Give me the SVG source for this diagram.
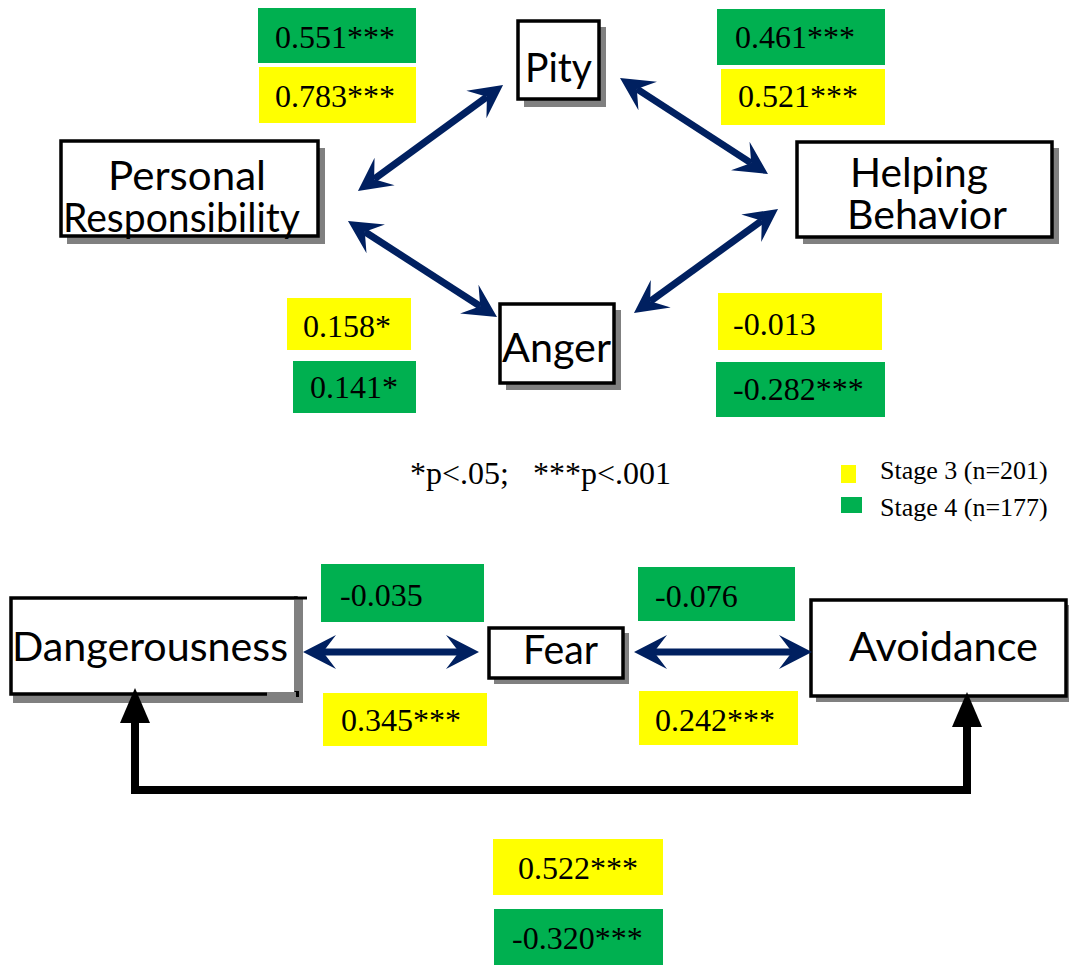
<svg xmlns="http://www.w3.org/2000/svg" width="1069" height="967" viewBox="0 0 1069 967">
  <style>
    .box { fill: #ffffff; stroke: #000000; stroke-width: 3.5; }
    .shadow { fill: #808080; }
    .node { font-family: "Lato", "Carlito", "Liberation Sans", sans-serif; font-size: 41px; fill: #000000; }
    .num { font-family: "Liberation Serif", "Times New Roman", serif; font-size: 32px; fill: #000000; }
    .legend { font-family: "Liberation Serif", "Times New Roman", serif; font-size: 26px; fill: #000000; }
    .s3 { fill: #ffff00; }
    .s4 { fill: #00b050; }
    .link { stroke: #002060; stroke-width: 7; fill: none; marker-start: url(#barb); marker-end: url(#barb); }
    .path { stroke: #000000; stroke-width: 8; fill: none; stroke-linejoin: miter; marker-start: url(#tri); marker-end: url(#tri); }
  </style>
  <defs>
    <marker id="barb" markerUnits="userSpaceOnUse" viewBox="0 -20 40 40" markerWidth="40" markerHeight="40" refX="13" refY="0" orient="auto-start-reverse" overflow="visible">
      <path d="M0,-17 L33,0 L0,17 L13,0 Z" fill="#002060"/>
    </marker>
    <marker id="tri" markerUnits="userSpaceOnUse" viewBox="0 -20 40 40" markerWidth="40" markerHeight="40" refX="0" refY="0" orient="auto-start-reverse" overflow="visible">
      <path d="M0,-15 L35,0 L0,15 Z" fill="#000000"/>
    </marker>
  </defs>

  <!-- coefficient labels: yellow = stage 3, green = stage 4 -->
  <g id="labels">
    <rect class="s4" x="258" y="8" width="158" height="55"/>
    <text class="num" x="275" y="48">0.551***</text>
    <rect class="s3" x="259" y="67" width="157" height="56"/>
    <text class="num" x="275" y="107">0.783***</text>

    <rect class="s4" x="717" y="9" width="168" height="56"/>
    <text class="num" x="735" y="48">0.461***</text>
    <rect class="s3" x="721" y="69" width="164" height="56"/>
    <text class="num" x="738" y="107">0.521***</text>

    <rect class="s3" x="287" y="298" width="124" height="52"/>
    <text class="num" x="303" y="337">0.158*</text>
    <rect class="s4" x="293" y="361" width="123" height="52"/>
    <text class="num" x="310" y="398">0.141*</text>

    <rect class="s3" x="718" y="293" width="164" height="57"/>
    <text class="num" x="733" y="335">-0.013</text>
    <rect class="s4" x="716" y="362" width="169" height="55"/>
    <text class="num" x="733" y="400">-0.282***</text>

    <rect class="s4" x="321" y="564" width="163" height="58"/>
    <text class="num" x="340" y="606">-0.035</text>
    <rect class="s3" x="323" y="693" width="164" height="53"/>
    <text class="num" x="341" y="731">0.345***</text>

    <rect class="s4" x="638" y="567" width="157" height="54"/>
    <text class="num" x="655" y="607">-0.076</text>
    <rect class="s3" x="639" y="691" width="159" height="54"/>
    <text class="num" x="655" y="731">0.242***</text>

    <rect class="s3" x="493" y="839" width="170" height="56"/>
    <text class="num" x="518" y="879">0.522***</text>
    <rect class="s4" x="494" y="909" width="169" height="56"/>
    <text class="num" x="512" y="949">-0.320***</text>
  </g>

  <!-- significance note -->
  <text id="note" class="num" x="410" y="484" xml:space="preserve">*p&lt;.05;   ***p&lt;.001</text>

  <!-- legend -->
  <g id="legend">
    <rect class="s3" x="841" y="465" width="15" height="18"/>
    <text class="legend" x="880" y="479">Stage 3 (n=201)</text>
    <rect class="s4" x="841" y="497" width="21" height="16"/>
    <text class="legend" x="880" y="516">Stage 4 (n=177)</text>
  </g>

  <!-- nodes -->
  <g id="pity">
    <rect class="shadow" x="524" y="27" width="82" height="80"/>
    <rect class="box" x="518" y="21" width="81" height="78"/>
    <text class="node" x="525" y="82" textLength="67" lengthAdjust="spacingAndGlyphs">Pity</text>
  </g>
  <g id="personal-responsibility">
    <rect class="shadow" x="67" y="148" width="258" height="96"/>
    <rect class="box" x="61" y="141" width="257" height="95"/>
    <text class="node" x="108" y="190" textLength="158" lengthAdjust="spacingAndGlyphs">Personal</text>
    <text class="node" x="63" y="232" textLength="237" lengthAdjust="spacingAndGlyphs">Responsibility</text>
  </g>
  <g id="helping-behavior">
    <rect class="shadow" x="803" y="148" width="256" height="96"/>
    <rect class="box" x="797" y="142" width="255" height="95"/>
    <text class="node" x="850" y="187" textLength="138" lengthAdjust="spacingAndGlyphs">Helping</text>
    <text class="node" x="847" y="229" textLength="160" lengthAdjust="spacingAndGlyphs">Behavior</text>
  </g>
  <g id="anger">
    <rect class="shadow" x="506" y="310" width="115" height="80"/>
    <rect class="box" x="500" y="304" width="114" height="79"/>
    <text class="node" x="502" y="362" textLength="109" lengthAdjust="spacingAndGlyphs">Anger</text>
  </g>
  <g id="dangerousness">
    <rect class="shadow" x="13" y="603" width="290" height="100"/>
    <rect class="box" x="11" y="598" width="285" height="96"/>
    <rect class="shadow" x="294" y="597" width="9" height="94"/>
    <line x1="294" y1="598" x2="307" y2="598" stroke="#000000" stroke-width="3"/>
    <rect class="shadow" x="267" y="692" width="33" height="11"/>
    <rect x="296" y="691" width="3" height="6" fill="#000000"/>
    <text class="node" x="12" y="661" textLength="276" lengthAdjust="spacingAndGlyphs">Dangerousness</text>
  </g>
  <g id="fear">
    <rect class="shadow" x="494" y="633" width="135" height="51"/>
    <rect class="box" x="489" y="628" width="134" height="50"/>
    <text class="node" x="523" y="664" textLength="75" lengthAdjust="spacingAndGlyphs">Fear</text>
  </g>
  <g id="avoidance">
    <rect class="shadow" x="816" y="605" width="256" height="97"/>
    <rect class="box" x="811" y="600" width="255" height="96"/>
    <text class="node" x="849" y="661" textLength="189" lengthAdjust="spacingAndGlyphs">Avoidance</text>
  </g>

  <!-- connectors -->
  <g id="connectors">
    <line class="link" x1="374.1" y1="179.2" x2="486.9" y2="96.8"/>
    <line class="link" x1="364.8" y1="231.8" x2="480.2" y2="306.2"/>
    <line class="link" x1="636.8" y1="88.9" x2="751.2" y2="163.1"/>
    <line class="link" x1="650.2" y1="301.3" x2="761.8" y2="220.7"/>
    <line class="link" x1="323" y1="652" x2="459" y2="652"/>
    <line class="link" x1="654" y1="652" x2="792" y2="652"/>
    <path class="path" d="M135,723 V790 H967 V727"/>
  </g>
</svg>
